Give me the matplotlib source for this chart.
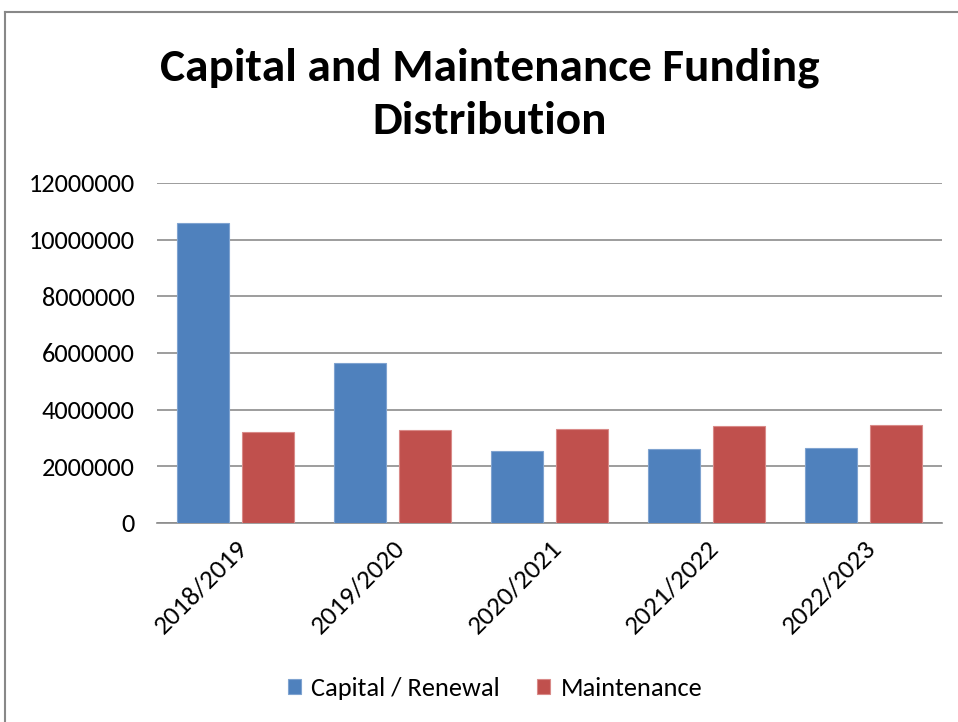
import matplotlib
matplotlib.use("Agg")
import matplotlib.pyplot as plt
from matplotlib.lines import Line2D
import numpy as np

years = ["2018/2019", "2019/2020", "2020/2021", "2021/2022", "2022/2023"]
capital_renewal = [10580000, 5640000, 2550000, 2600000, 2640000]
maintenance = [3220000, 3280000, 3320000, 3410000, 3460000]
y_ticks = [0, 2000000, 4000000, 6000000, 8000000, 10000000, 12000000]

blue = "#4f81bd"
red = "#c0504d"
grid_gray = "#8c8c8c"

plt.rcParams["font.family"] = ["Carlito", "Lato", "DejaVu Sans"]

fig = plt.figure(figsize=(9.58, 7.22), dpi=100)
W, H = 958, 722
ax = fig.add_axes([157 / W, 1 - 523 / H, (942 - 157) / W, (523 - 183) / H])

x = np.arange(len(years))
bw = 0.33
off = 0.207
ax.bar(x - off, capital_renewal, bw, color=blue, edgecolor="#7fa3d0", linewidth=0.8,
       label="Capital / Renewal", zorder=3)
ax.bar(x + off, maintenance, bw, color=red, edgecolor="#d98a88", linewidth=0.8,
       label="Maintenance", zorder=3)

ax.set_xlim(-0.5, len(years) - 0.5)
ax.set_ylim(0, 12000000)
ax.set_yticks(y_ticks)
ax.set_yticklabels([str(v) for v in y_ticks], fontsize=19)
ax.set_xticks(x)
ax.set_xticklabels(years, fontsize=19.5, rotation=45, ha="right", rotation_mode="anchor")
ax.tick_params(axis="both", length=0, colors="black")
ax.tick_params(axis="y", pad=16)
ax.tick_params(axis="x", pad=9)
ax.yaxis.grid(True, color=grid_gray, linewidth=1.2, zorder=0)
for s in ["top", "right", "left"]:
    ax.spines[s].set_visible(False)
ax.spines["bottom"].set_color(grid_gray)
ax.spines["bottom"].set_linewidth(1.2)

fig.text(490 / W, 1 - 94 / H, "Capital and Maintenance Funding\nDistribution",
         ha="center", va="center", fontsize=34, fontweight="bold", linespacing=1.38)

fig.legend(*ax.get_legend_handles_labels(), loc="center",
           bbox_to_anchor=(495 / W, 1 - 688 / H), ncol=2,
           frameon=False, fontsize=19, handlelength=0.5, handleheight=0.5,
           handletextpad=0.4, columnspacing=1.4)

# outer chart border (left and top edges)
fig.add_artist(Line2D([5 / W, 5 / W], [0, 1 - 12 / H], color="#888888", linewidth=1.5,
                      transform=fig.transFigure))
fig.add_artist(Line2D([5 / W, 1], [1 - 12 / H, 1 - 12 / H], color="#888888", linewidth=1.5,
                      transform=fig.transFigure))

fig.savefig("out.png", dpi=100)
